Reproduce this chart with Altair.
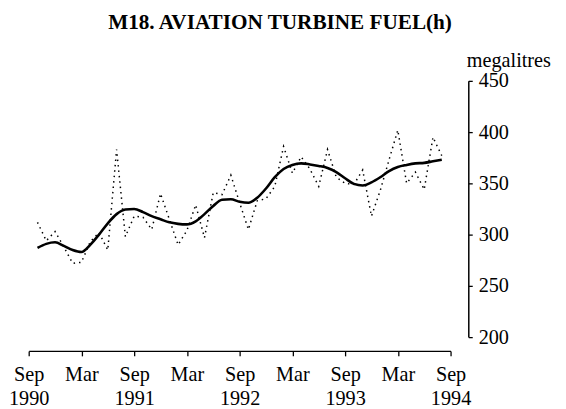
import json
import altair as alt
import pandas as pd

# month index: 0 = Sep 1990 ... 48 = Sep 1994; data run Oct 1990 .. Aug 1994
month_index = list(range(1, 48))

original = [312, 294, 303, 288, 272, 273, 293, 302, 285, 383, 298, 318,
            317, 305, 340, 315, 290, 304, 329, 297, 341, 339, 358, 331,
            305, 333, 335, 347, 386, 360, 376, 364, 347, 383, 356, 350,
            349, 363, 318, 343, 373, 402, 350, 361, 344, 395, 377]

trend = [287, 291, 292.5, 289, 285, 283, 290, 300, 311, 320, 324.5, 325,
         322, 318, 315, 312, 310.5, 310, 313, 320, 328, 334, 334.5, 332,
         331, 336, 345, 356, 364, 368, 369.5, 368.5, 367, 365, 361, 355,
         349.5, 348, 351, 356, 362, 366, 368, 369.5, 370, 371.5, 373]

x_tick_values = [0, 6, 12, 18, 24, 30, 36, 42, 48]
x_tick_labels = [["Sep", "1990"], ["Mar"], ["Sep", "1991"], ["Mar"],
                 ["Sep", "1992"], ["Mar"], ["Sep", "1993"], ["Mar"],
                 ["Sep", "1994"]]
y_tick_values = [200, 250, 300, 350, 400, 450]

title_text = "M18. AVIATION TURBINE FUEL(h)"
unit_text = "megalitres"

FONT = "Liberation Serif"

df = pd.DataFrame({"t": month_index, "original": original, "trend": trend})

label_expr = json.dumps(x_tick_labels) + "[round(datum.value / 6)]"

x_scale = alt.Scale(domain=[0, 48], nice=False, zero=False)
y_scale = alt.Scale(domain=[200, 450], nice=False, zero=False)

x_axis = alt.Axis(values=x_tick_values, labelExpr=label_expr, title=None,
                  grid=False, offset=14, tickSize=5, tickColor="black",
                  domainColor="black", domainWidth=1.3, tickWidth=1.3,
                  labelFont=FONT, labelFontSize=20.5, labelColor="black",
                  labelPadding=9, labelLineHeight=24, labelFlush=False,
                  labelOverlap=False, labelBound=False)

y_axis = alt.Axis(orient="right", values=y_tick_values, grid=False,
                  offset=18, tickSize=4, tickColor="black",
                  domainColor="black", domainWidth=1.5, tickWidth=1.3,
                  labelFont=FONT, labelFontSize=20.5, labelColor="black",
                  labelPadding=6, labelFlush=False, labelOverlap=False,
                  title=unit_text, titleAngle=0, titleAlign="left",
                  titleBaseline="alphabetic", titleX=-2, titleY=-15,
                  titleFont=FONT, titleFontSize=20.5, titleFontWeight="normal",
                  titleColor="black")

base = alt.Chart(df)

orig_line = base.mark_line(color="black", strokeWidth=1.5,
                           strokeDash=[1.5, 4]).encode(
    x=alt.X("t:Q", scale=x_scale, axis=x_axis),
    y=alt.Y("original:Q", scale=y_scale, axis=y_axis),
)

trend_line = base.mark_line(color="black", strokeWidth=2.6,
                            interpolate="monotone").encode(
    x=alt.X("t:Q", scale=x_scale),
    y=alt.Y("trend:Q", scale=y_scale),
)

title_layer = alt.Chart(pd.DataFrame({"txt": [title_text]})).mark_text(
    font=FONT, fontSize=21.5, fontWeight="bold", color="black",
    align="center", baseline="middle").encode(
    text="txt:N", x=alt.value(255), y=alt.value(-59))

chart = alt.layer(orig_line, trend_line, title_layer).properties(
    width=428, height=260,
    background="white",
    autosize=alt.AutoSizeParams(type="none"),
    padding={"left": 21, "top": 71, "right": 109, "bottom": 70},
).configure_view(stroke=None, strokeWidth=0)

chart.save("out.html", embed_options={"renderer": "svg", "actions": False})
